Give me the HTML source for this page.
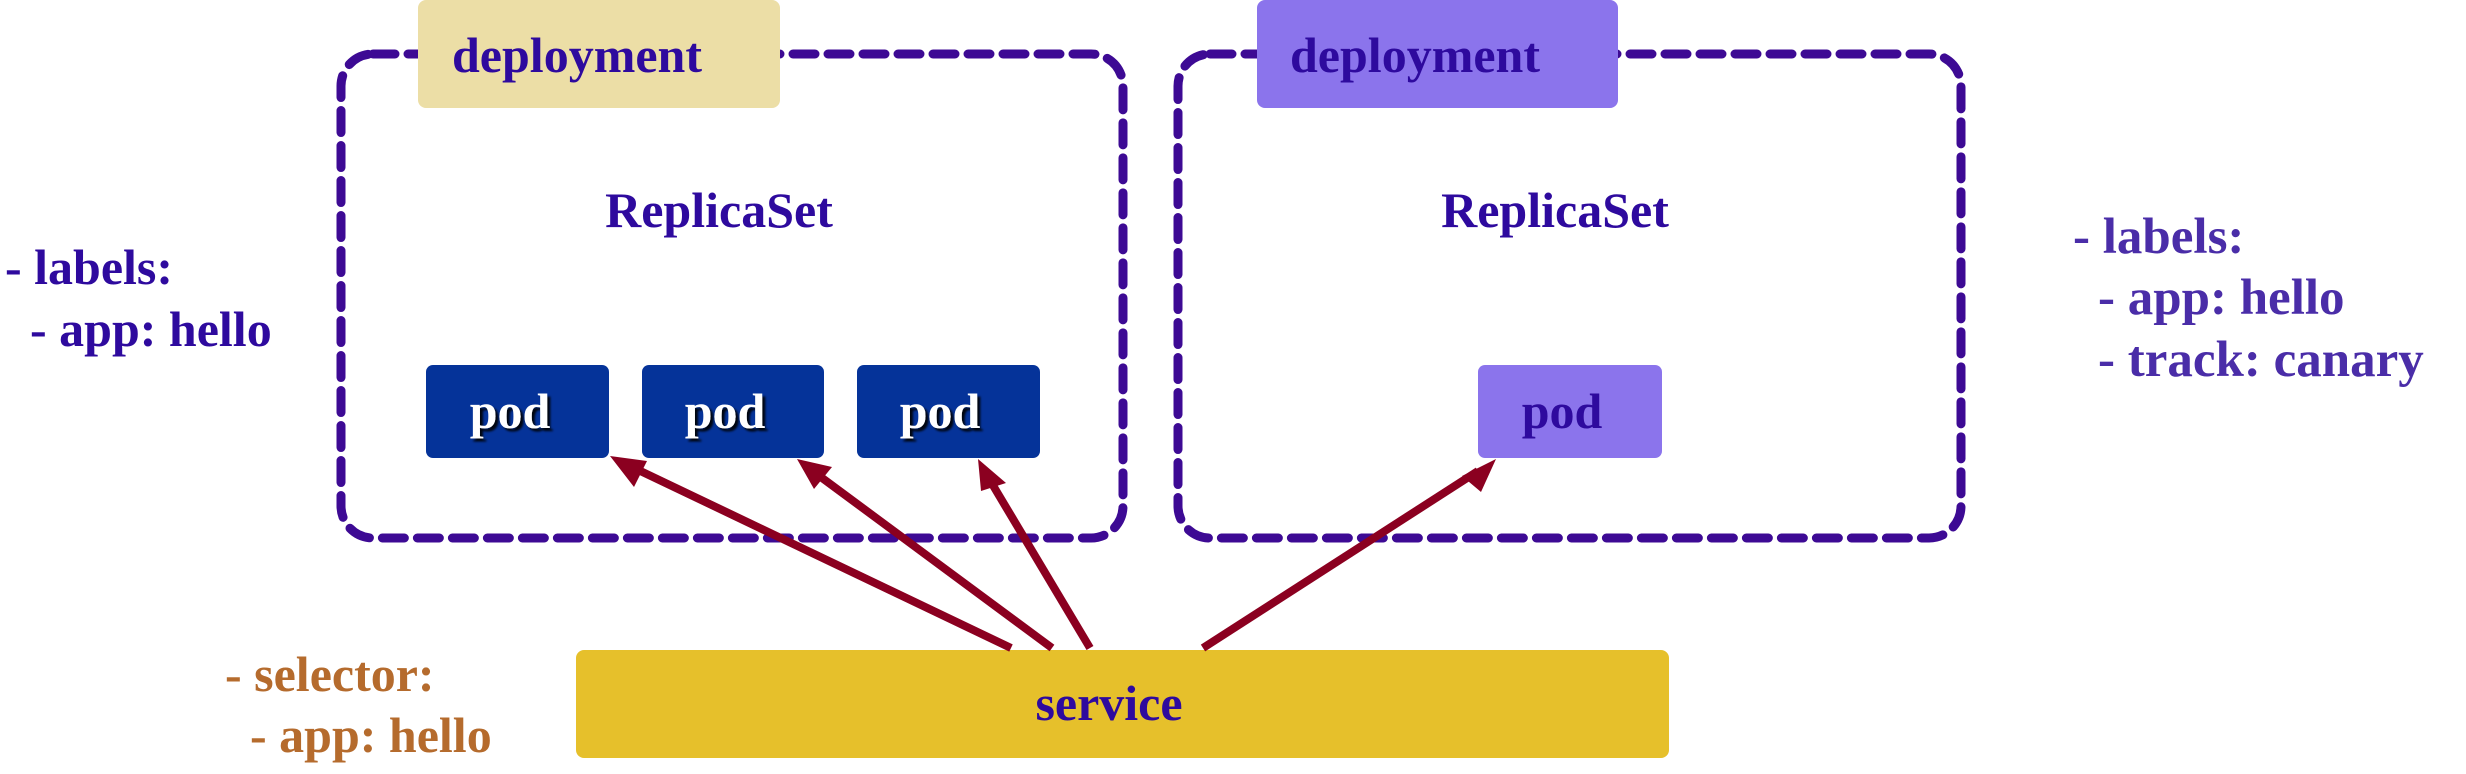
<!DOCTYPE html>
<html><head><meta charset="utf-8"><style>
html,body{margin:0;padding:0;background:#fff;}
body{width:2466px;height:769px;overflow:hidden;}
text{font-family:"Liberation Serif",serif;font-weight:bold;}
</style></head><body>
<svg width="2466" height="769" viewBox="0 0 2466 769" xmlns="http://www.w3.org/2000/svg">
<defs>
<filter id="sh"><feDropShadow dx="3" dy="3" stdDeviation="1" flood-color="#000" flood-opacity="0.9"/></filter>
</defs>
<g fill="none" stroke="#3d0a94" stroke-width="9" stroke-dasharray="22 13" stroke-linecap="round">
<rect x="341" y="54" width="782" height="484" rx="32"/>
<rect x="1178" y="54" width="783" height="484" rx="32"/>
</g>
<rect x="418" y="0" width="362" height="108" rx="8" fill="#ecdea6"/>
<rect x="1257" y="0" width="361" height="108" rx="8" fill="#8b74ec"/>
<text x="452" y="72" font-size="50" fill="#2e0a9e">deployment</text>
<text x="1290" y="72" font-size="50" fill="#2e0a9e">deployment</text>
<text x="719" y="227" font-size="50" fill="#2e0a9e" text-anchor="middle">ReplicaSet</text>
<text x="1555" y="227" font-size="50" fill="#2e0a9e" text-anchor="middle">ReplicaSet</text>
<g fill="#053399">
<rect x="426" y="365" width="183" height="93" rx="7"/>
<rect x="642" y="365" width="182" height="93" rx="7"/>
<rect x="857" y="365" width="183" height="93" rx="7"/>
</g>
<rect x="1478" y="365" width="184" height="93" rx="7" fill="#8b74ec"/>
<g font-size="50" fill="#fff" filter="url(#sh)" text-anchor="middle">
<text x="510" y="428">pod</text>
<text x="725" y="428">pod</text>
<text x="940" y="428">pod</text>
</g>
<text x="1562" y="428" font-size="50" fill="#2e0a9e" text-anchor="middle">pod</text>
<rect x="576" y="650" width="1093" height="108" rx="8" fill="#e6c02b"/>
<text x="1109" y="720" font-size="50" fill="#2e0a9e" text-anchor="middle">service</text>
<g font-size="50" fill="#2e0a9e">
<text x="5" y="284">- labels:</text>
<text x="30" y="346">- app: hello</text>
</g>
<g font-size="51" fill="#4a2da8">
<text x="2073" y="253">- labels:</text>
<text x="2098" y="314">- app: hello</text>
<text x="2098" y="376">- track: canary</text>
</g>
<g font-size="50" fill="#b56b2d">
<text x="225" y="691">- selector:</text>
<text x="250" y="752">- app: hello</text>
</g>
<g stroke="#8b0020" stroke-width="8" fill="#8b0020">
<line x1="1011" y1="648" x2="630" y2="466"/>
<line x1="1052" y1="648" x2="814" y2="472"/>
<line x1="1090" y1="648" x2="988" y2="477"/>
<line x1="1203" y1="648" x2="1478" y2="471"/>
</g>
<g fill="#8b0020">
<polygon points="610,456 647,461 634,487" />
<polygon points="797,459 832,467 814,489" />
<polygon points="978,459 1006,483 981,491" />
<polygon points="1496,459 1481,492 1462,476" />
</g>
</svg>
</body></html>
